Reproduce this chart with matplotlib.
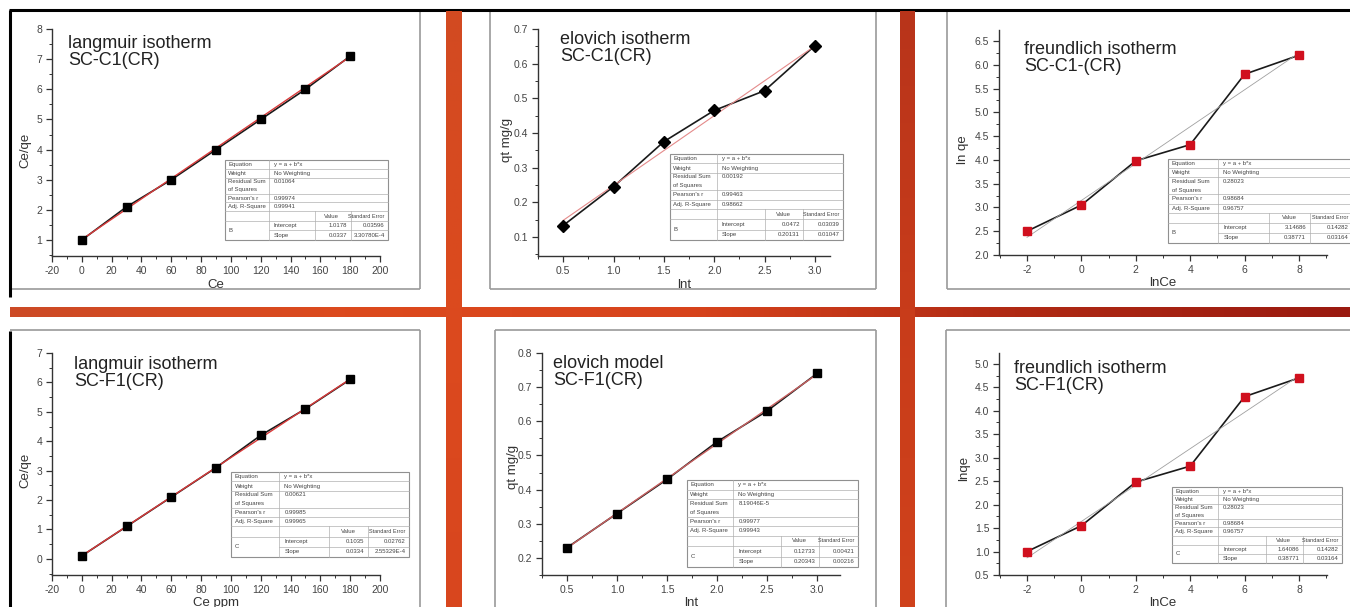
import numpy as np
import matplotlib
matplotlib.use("Agg")
import matplotlib.pyplot as plt
from matplotlib.ticker import MultipleLocator
from matplotlib.colors import LinearSegmentedColormap

plt.rcParams['font.family'] = ['Liberation Sans', 'DejaVu Sans']

# ---------------- data ----------------
ce = [0, 30, 60, 90, 120, 150, 180]
lnt = [0.5, 1.0, 1.5, 2.0, 2.5, 3.0]
lnce = [-2, 0, 2, 4, 6, 8]

c1_langmuir = [1.0, 2.1, 3.0, 4.0, 5.0, 6.0, 7.1]
c1_elovich = [0.133, 0.245, 0.375, 0.465, 0.522, 0.652]
c1_freundlich = [2.5, 3.05, 3.98, 4.32, 5.8, 6.2]
f1_langmuir = [0.1, 1.1, 2.1, 3.1, 4.2, 5.1, 6.1]
f1_elovich = [0.23, 0.33, 0.43, 0.54, 0.63, 0.74]
f1_freundlich = [1.0, 1.55, 2.48, 2.82, 4.3, 4.7]

titles = ["langmuir isotherm\nSC-C1(CR)", "elovich isotherm\nSC-C1(CR)",
          "freundlich isotherm\nSC-C1-(CR)", "langmuir isotherm\nSC-F1(CR)",
          "elovich model\nSC-F1(CR)", "freundlich isotherm\nSC-F1(CR)"]
xlabels = ["Ce", "lnt", "lnCe", "Ce ppm", "lnt", "lnCe"]
ylabels = ["Ce/qe", "qt mg/g", "ln qe", "Ce/qe", "qt mg/g", "lnqe"]

# fit results: intercept, slope, (text values)
fit_intercepts = [1.0178, 0.0472, 3.14686, 0.1035, 0.12733, 1.64086]
fit_slopes = [0.0337, 0.20131, 0.38771, 0.0334, 0.20343, 0.38771]
fit_int_err = ["0.03596", "0.03039", "0.14282", "0.02762", "0.00421", "0.14282"]
fit_slope_err = ["3.30780E-4", "0.01047", "0.03164", "2.55329E-4", "0.00216", "0.03164"]
fit_rss = ["0.01064", "0.00192", "0.28023", "0.00621", "8.19046E-5", "0.28023"]
fit_pearson = ["0.99974", "0.99463", "0.98684", "0.99985", "0.99977", "0.98684"]
fit_adjr = ["0.99941", "0.98662", "0.96757", "0.99965", "0.99943", "0.96757"]
fit_group = ["B", "B", "B", "C", "C", "C"]
fit_int_str = ["1.0178", "0.0472", "3.14686", "0.1035", "0.12733", "1.64086"]
fit_slope_str = ["0.0337", "0.20131", "0.38771", "0.0334", "0.20343", "0.38771"]

xs = [ce, lnt, lnce, ce, lnt, lnce]
ys = [c1_langmuir, c1_elovich, c1_freundlich, f1_langmuir, f1_elovich, f1_freundlich]

# ---------------- figure ----------------
W, H = 1350, 607
fig = plt.figure(figsize=(13.5, 6.07), dpi=100)
fig.patch.set_facecolor('white')

bg = fig.add_axes([0, 0, 1, 1], zorder=0)
bg.set_xlim(0, W); bg.set_ylim(H, 0); bg.axis('off')

# gray panel frames
frame_c = '#9a9a9a'
def seg(x0, y0, x1, y1, c=frame_c, lw=1.2):
    bg.plot([x0, x1], [y0, y1], color=c, lw=lw, solid_capstyle='butt')

seg(420, 10, 420, 289); seg(10, 289, 420, 289)
seg(490, 12, 490, 289); seg(490, 289, 876, 289); seg(876, 12, 876, 289)
seg(947, 12, 947, 289); seg(947, 289, 1350, 289)
seg(10, 330, 420, 330); seg(420, 330, 420, 607)
seg(495, 330, 876, 330); seg(495, 330, 495, 607); seg(876, 330, 876, 607)
seg(946, 330, 1350, 330); seg(946, 330, 946, 607)
# black border
seg(9, 10, 1350, 10, c='black', lw=2.2)
seg(10, 10, 10, 297, c='black', lw=2.2)
seg(10, 331, 10, 607, c='black', lw=2.2)

# red decorative bars
cmap_h = LinearSegmentedColormap.from_list('h', ['#cc4a26', '#dc4a1e', '#d8441c', '#b02a14', '#9a1a10'])
grad = np.linspace(0, 1, 256).reshape(1, -1)
bg.imshow(grad, cmap=cmap_h, extent=[10, W, 317, 307], aspect='auto', zorder=2)
cmap_v1 = LinearSegmentedColormap.from_list('v1', ['#d24a22', '#dc4a1e', '#d8461e'])
cmap_v2 = LinearSegmentedColormap.from_list('v2', ['#b8341a', '#c83c1a', '#d0421c'])
gv = np.linspace(0, 1, 256).reshape(-1, 1)
bg.imshow(gv, cmap=cmap_v1, extent=[446, 462, 607, 11], aspect='auto', zorder=3)
bg.imshow(gv, cmap=cmap_v2, extent=[900, 915, 607, 11], aspect='auto', zorder=3)
bg.set_xlim(0, W); bg.set_ylim(H, 0)

# ---------------- subplot axes ----------------
def rect(x0, x1, ytop, ybot):
    return [x0 / W, 1 - ybot / H, (x1 - x0) / W, (ybot - ytop) / H]

rects = [rect(52, 380, 29, 256), rect(538, 830, 29, 256), rect(999, 1327, 30, 255),
         rect(52, 380, 353, 575), rect(542, 840, 353, 575), rect(999, 1327, 353, 575)]
xlims = [(-20, 200), (0.25, 3.15), (-3.03, 9.03), (-20, 200), (0.25, 3.23), (-3.03, 9.03)]
ylims = [(0.47, 8), (0.045, 0.7), (2.0, 6.73), (-0.55, 7), (0.15, 0.8), (0.5, 5.23)]
xmaj = [20, 0.5, 2, 20, 0.5, 2]
ymaj = [1, 0.1, 0.5, 1, 0.1, 0.5]
title_pos = [(0.049, 0.975), (0.075, 0.99), (0.076, 0.952), (0.067, 0.987), (0.037, 0.99), (0.046, 0.97)]
ylab_pos = [(-0.064, 0.467), (-0.086, 0.51), (-0.091, 0.467), (-0.064, 0.473), (-0.077, 0.486), (-0.088, 0.48)]
markers = ['s', 'D', 's', 's', 's', 's']
mcolors = ['black', 'black', '#d0101e', 'black', 'black', '#d0101e']
fitcolors = ['#d83a3a', '#e48a8a', '#a0a0a0', '#d83a3a', '#c86060', '#a0a0a0']
fitlw = [1.0, 0.8, 0.6, 1.0, 1.0, 0.6]
xfmt = ['{:.0f}', '{:.1f}', '{:.0f}', '{:.0f}', '{:.1f}', '{:.0f}']
yfmt = ['{:.0f}', '{:.1f}', '{:.1f}', '{:.0f}', '{:.1f}', '{:.1f}']

axes = []
for i in range(6):
    ax = fig.add_axes(rects[i], zorder=5)
    ax.patch.set_alpha(0)
    x = np.array(xs[i], dtype=float)
    y = np.array(ys[i], dtype=float)
    ax.plot(x, y, color='#1a1a1a', lw=1.2, zorder=3)
    xf = np.array([x[0], x[-1]])
    ax.plot(xf, fit_intercepts[i] + fit_slopes[i] * xf, color=fitcolors[i], lw=fitlw[i], zorder=4)
    ms = 6 if markers[i] == 'D' else 5.5
    ax.plot(x, y, linestyle='none', marker=markers[i], ms=ms, color=mcolors[i],
            mec=mcolors[i], zorder=5)
    ax.set_xlim(*xlims[i]); ax.set_ylim(*ylims[i])
    ax.xaxis.set_major_locator(MultipleLocator(xmaj[i]))
    ax.xaxis.set_minor_locator(MultipleLocator(xmaj[i] / 2))
    ax.yaxis.set_major_locator(MultipleLocator(ymaj[i]))
    ax.yaxis.set_minor_locator(MultipleLocator(ymaj[i] / 2))
    fx, fy = xfmt[i], yfmt[i]
    ax.xaxis.set_major_formatter(plt.FuncFormatter(lambda v, p, f=fx: f.format(v)))
    ax.yaxis.set_major_formatter(plt.FuncFormatter(lambda v, p, f=fy: f.format(v)))
    for s in ['top', 'right']:
        ax.spines[s].set_visible(False)
    for s in ['left', 'bottom']:
        ax.spines[s].set_color('#333333'); ax.spines[s].set_linewidth(1.0)
    ax.tick_params(which='major', direction='out', length=4, width=0.9, color='#333333',
                   labelsize=7.5, labelcolor='#444444', pad=3)
    ax.tick_params(which='minor', direction='out', length=2, width=0.7, color='#333333')
    ax.set_xlabel(xlabels[i], fontsize=9.5, color='#333333')
    ax.set_ylabel(ylabels[i], fontsize=9.5, color='#333333')
    ax.xaxis.set_label_coords(0.5, -0.1)
    ax.yaxis.set_label_coords(*ylab_pos[i])
    ax.text(title_pos[i][0], title_pos[i][1], titles[i], transform=ax.transAxes,
            fontsize=13, color='#222222', va='top', ha='left', linespacing=1.0)
    axes.append(ax)

# ---------------- fit tables (overlay) ----------------
ov = fig.add_axes([0, 0, 1, 1], zorder=10)
ov.patch.set_alpha(0)
ov.set_xlim(0, W); ov.set_ylim(H, 0); ov.axis('off')

boxes = [(225, 160, 388, 240), (670, 154, 843, 240), (1168, 159, 1352, 243),
         (231, 472, 409, 557), (687, 480, 858, 567), (1172, 487, 1342, 563)]

def draw_table(k):
    x0, y0, x1, y1 = boxes[k]
    w, h = x1 - x0, y1 - y0
    lc = '#b0b0b0'
    ov.add_patch(plt.Rectangle((x0, y0), w, h, fill=True, fc='white', ec='#909090', lw=0.8))
    rows = [0, 0.11, 0.22, 0.42, 0.53, 0.64, 0.76, 0.88, 1.0]
    cols = [0, 0.27, 0.55, 0.77, 1.0]
    for r in rows[1:-1]:
        xs_start = x0 if r not in (0.88,) else x0 + cols[1] * w
        ov.plot([xs_start, x1], [y0 + r * h, y0 + r * h], color=lc, lw=0.5)
    for c in cols[1:-1]:
        ov.plot([x0 + c * w, x0 + c * w], [y0 + 0.64 * h if c != 0.27 else y0, y1], color=lc, lw=0.5)
    fs = 4.3
    tc = '#444444'
    def t(xf, yf, s, ha='left', f=fs):
        ov.text(x0 + xf * w, y0 + yf * h, s, fontsize=f, color=tc, ha=ha, va='center')
    t(0.02, 0.055, "Equation"); t(0.30, 0.055, "y = a + b*x")
    t(0.02, 0.165, "Weight"); t(0.30, 0.165, "No Weighting")
    t(0.02, 0.265, "Residual Sum"); t(0.02, 0.37, "of Squares"); t(0.30, 0.265, fit_rss[k])
    t(0.02, 0.475, "Pearson's r"); t(0.30, 0.475, fit_pearson[k])
    t(0.02, 0.585, "Adj. R-Square"); t(0.30, 0.585, fit_adjr[k])
    t(0.70, 0.70, "Value", ha='right'); t(0.98, 0.70, "Standard Error", ha='right', f=4.0)
    t(0.02, 0.88, fit_group[k])
    t(0.30, 0.82, "Intercept"); t(0.75, 0.82, fit_int_str[k], ha='right'); t(0.98, 0.82, fit_int_err[k], ha='right')
    t(0.30, 0.94, "Slope"); t(0.75, 0.94, fit_slope_str[k], ha='right'); t(0.98, 0.94, fit_slope_err[k], ha='right')

for k in range(6):
    draw_table(k)

fig.savefig('out.png', dpi=100, facecolor='white')
